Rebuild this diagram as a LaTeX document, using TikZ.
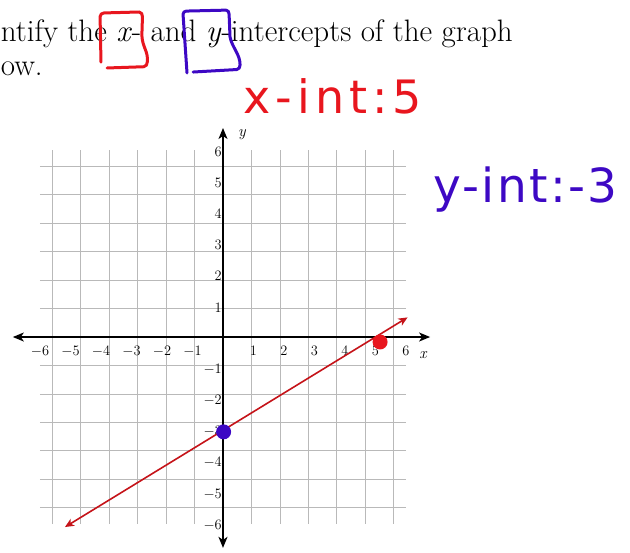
\documentclass[tikz,border=0pt]{standalone}
\usepackage{fontspec}
\usetikzlibrary{arrows.meta}
\newfontfamily\handfont{DejaVu Sans}
\definecolor{penRed}{HTML}{E8161E}
\definecolor{penBlue}{HTML}{3D08C4}

\begin{document}
\begin{tikzpicture}[x=30.5pt, y=31.1pt,
  gridline/.style={gray!55, line width=0.7pt},
  axis/.style={line width=1.5pt, {Stealth[length=11pt,width=9pt,inset=3pt]}-{Stealth[length=11pt,width=9pt,inset=3pt]}},
  numlbl/.style={font=\fontsize{14}{14}\selectfont, inner sep=1pt},
  graphln/.style={penRed!85!black, line width=1.6pt, {Stealth[length=9pt,width=8pt,inset=2.5pt]}-{Stealth[length=9pt,width=8pt,inset=2.5pt]}},
  pen/.style={line width=3pt, line cap=round, line join=round},
  hand/.style={inner sep=0pt, anchor=base west},
  task/.style={font=\fontsize{31}{31}\selectfont, inner sep=0pt, anchor=base west},
  dot/.style={circle, inner sep=0pt, minimum size=15pt}]
\useasboundingbox (-7.311,-6.913) rectangle (13.344,10.836);
\draw[gridline] (-6,-6) grid (6,6);
\coordinate (xlo) at (-6.89,0);
\coordinate (xhi) at (6.79,0);
\coordinate (ylo) at (0,-6.78);
\coordinate (yhi) at (0,6.72);
\draw[axis] (xlo) -- (xhi);
\draw[axis] (ylo) -- (yhi);
\node[font=\fontsize{16}{16}\selectfont\itshape] (xname) at (6.56,-0.58) {x};
\node[font=\fontsize{16}{16}\selectfont\itshape] (yname) at (0.62,6.5) {y};
\foreach \n in {-6,...,-1,1,2,...,6} {
  \node[numlbl, anchor=north, yshift=-8pt] (xn\n) at (\n,0) {$\n$};
  \node[numlbl, anchor=east, yshift=-1.5pt] (yn\n) at (0,\n) {$\n$};
}
\coordinate (lnlo) at (-5.18,-6.11);
\coordinate (lnhi) at (6.05,0.63);
\draw[graphln] (lnlo) -- (lnhi);
\node[dot, fill=penRed] (xint) at (5.15,-0.16) {};
\node[dot, fill=penBlue] (yint) at (0.02,-3.05) {};
\node[task] (line1) at (-7.29,9.486) {ntify the \textit{x}- and \textit{y}-intercepts of the graph};
\node[task] (line2) at (-7.29,8.42) {ow.};
\draw[pen, penRed] (-4.0,8.84) -- (-4.03,10.3) to[out=90,in=180] (-3.9,10.42) -- (-2.75,10.45) to[out=0,in=90] (-2.64,10.3) -- (-2.66,9.7) .. controls (-2.64,9.3) and (-2.45,9.2) .. (-2.48,8.85) to[out=-90,in=0] (-2.6,8.69) -- (-3.8,8.65);
\draw[pen, penBlue] (-1.18,8.49) -- (-1.31,10.38) to[out=90,in=180] (-1.2,10.48) -- (0.1,10.51) to[out=0,in=90] (0.2,10.38) -- (0.23,9.65) .. controls (0.3,9.3) and (0.56,9.1) .. (0.56,8.75) to[out=-90,in=0] (0.45,8.6) -- (-0.98,8.52);
\node[hand, penRed, font=\handfont\fontsize{46}{46}\selectfont\addfontfeature{LetterSpace=11}] (xlabel) at (0.66,7.2) {x-int:5};
\node[hand, penBlue, font=\handfont\fontsize{47}{47}\selectfont\addfontfeature{LetterSpace=5}] (ylabel) at (6.89,4.31) {y-int:-3};
\end{tikzpicture}
\end{document}
